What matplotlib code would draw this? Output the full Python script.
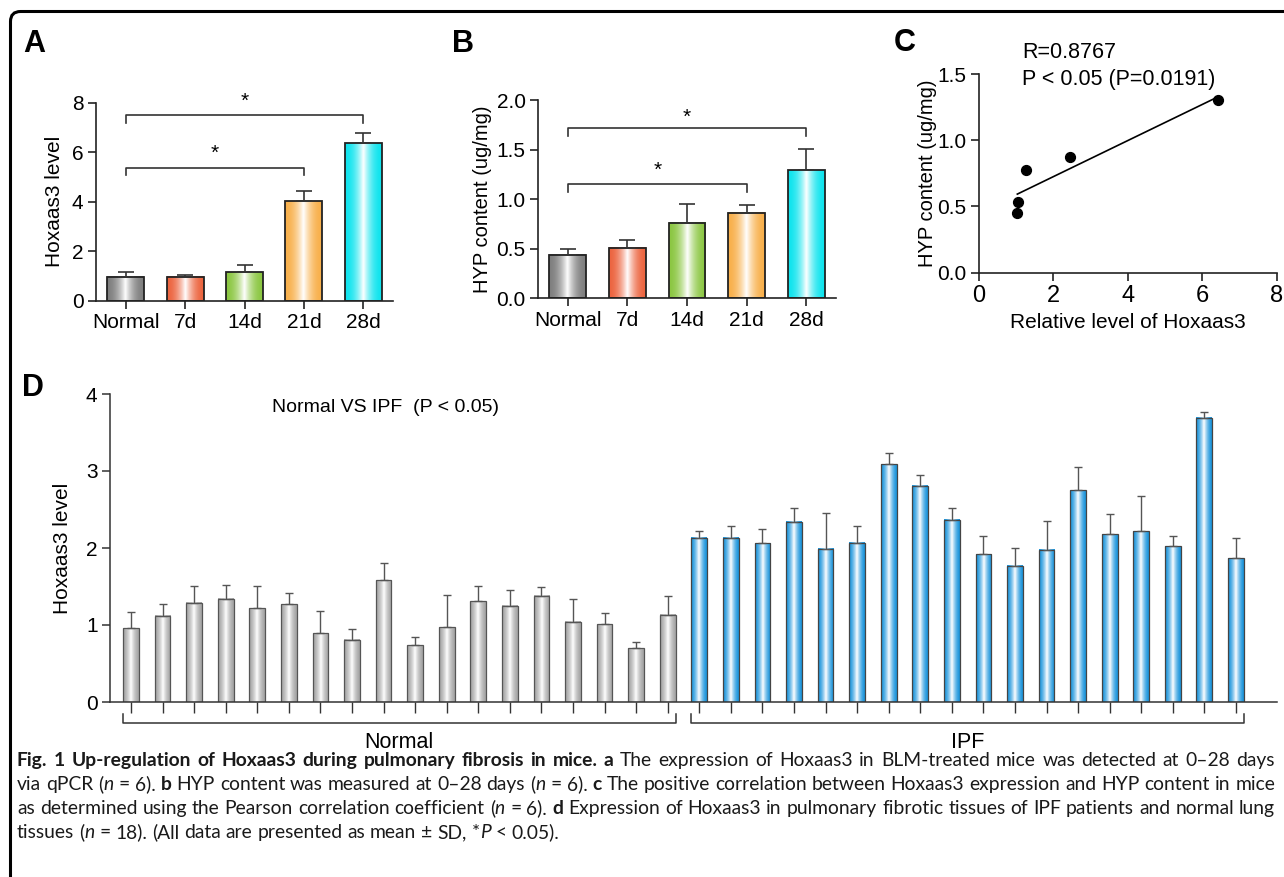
import numpy as np
import matplotlib
matplotlib.use("Agg")
import matplotlib.pyplot as plt
from matplotlib.patches import FancyBboxPatch
from matplotlib.colors import to_rgb
from matplotlib.transforms import IdentityTransform

plt.rcParams['font.family'] = ['Liberation Sans', 'DejaVu Sans']

W, H = 1284, 877

# panel A / B: time course in mice
groups = ["Normal", "7d", "14d", "21d", "28d"]
hox_mean = [0.97, 0.97, 1.17, 4.04, 6.36]
hox_sd = [0.17, 0.07, 0.26, 0.39, 0.41]
hyp_mean = [0.44, 0.51, 0.76, 0.86, 1.29]
hyp_sd = [0.06, 0.08, 0.19, 0.08, 0.22]
group_colors = ["#7f7f7f", "#ec6540", "#8cc743", "#f8b04c", "#10e4ee"]

# panel C: correlation
corr_x = [1.03, 1.05, 1.25, 2.45, 6.43]
corr_y = [0.45, 0.53, 0.775, 0.873, 1.30]

# panel D: patients
normal_mean = [0.96, 1.12, 1.29, 1.34, 1.22, 1.27, 0.89, 0.81, 1.58, 0.74,
               0.97, 1.31, 1.25, 1.38, 1.04, 1.01, 0.70, 1.13]
normal_sd = [0.21, 0.15, 0.22, 0.18, 0.29, 0.15, 0.29, 0.14, 0.22, 0.10,
             0.42, 0.20, 0.21, 0.11, 0.30, 0.14, 0.08, 0.25]
ipf_mean = [2.13, 2.13, 2.06, 2.34, 1.99, 2.07, 3.09, 2.81, 2.37, 1.92,
            1.77, 1.98, 2.75, 2.18, 2.22, 2.02, 3.69, 1.87]
ipf_sd = [0.09, 0.15, 0.19, 0.18, 0.47, 0.21, 0.14, 0.14, 0.15, 0.23,
          0.23, 0.37, 0.30, 0.26, 0.45, 0.14, 0.08, 0.26]

fig = plt.figure(figsize=(W / 100, H / 100), dpi=100)


def add_axes_px(left, top, right, bottom):
    return fig.add_axes([left / W, 1 - bottom / H, (right - left) / W, (bottom - top) / H])


def fig_text_px(x, y, s, **kw):
    return fig.text(x / W, 1 - y / H, s, **kw)


def style_axes(ax, lw=1.2, color="#222222"):
    for s in ["top", "right"]:
        ax.spines[s].set_visible(False)
    for s in ["left", "bottom"]:
        ax.spines[s].set_linewidth(lw)
        ax.spines[s].set_color(color)
    ax.tick_params(direction="out", length=6, width=lw, color=color, labelsize=15, pad=3)


def shade_bars(ax, bars, colors, power=2.0):
    # cylinder-like shading: colour at the edges, white in the middle
    t = np.linspace(0, 1, 80)
    w = (1 - np.abs(2 * t - 1)) ** power
    for bar, c in zip(bars, colors):
        rgb = np.array(to_rgb(c))
        img = rgb[None, :] * (1 - w[:, None]) + w[:, None]
        x0, y0 = bar.get_x(), bar.get_y()
        ax.imshow(img[None, :, :], extent=[x0, x0 + bar.get_width(), y0, y0 + bar.get_height()],
                  aspect="auto", zorder=1, interpolation="bilinear")


def bracket(ax, x0, x1, y, drop, star_y):
    ax.plot([x0, x0, x1, x1], [y - drop, y, y, y - drop], color="#333333", lw=1.2, clip_on=False)
    ax.text((x0 + x1) / 2, star_y, "*", ha="center", va="center", fontsize=15)


x5 = np.arange(len(groups))

# ---- A
axA = add_axes_px(96, 102.7, 393, 300.7)
barsA = axA.bar(x5, hox_mean, width=0.62, facecolor="none", edgecolor="#222222", lw=1.3, zorder=2)
shade_bars(axA, barsA, group_colors)
axA.errorbar(x5, hox_mean, yerr=[np.zeros(5), hox_sd], fmt="none", ecolor="#333333",
             elinewidth=1.2, capsize=5.5, capthick=1.2, zorder=3)
axA.set_xlim(-0.5, 4.5)
axA.set_ylim(0, 8)
axA.set_yticks([0, 2, 4, 6, 8])
axA.set_xticks(x5, groups)
style_axes(axA)
axA.set_ylabel("Hoxaas3 level", fontsize=15, va="center")
axA.yaxis.set_label_coords(-41 / 297, 0.5)
bracket(axA, 0, 3, 5.35, 0.27, 5.95)
bracket(axA, 0, 4, 7.5, 0.3, 8.04)

# ---- B
axB = add_axes_px(538, 100, 836, 298.3)
barsB = axB.bar(x5, hyp_mean, width=0.62, facecolor="none", edgecolor="#222222", lw=1.3, zorder=2)
shade_bars(axB, barsB, group_colors)
axB.errorbar(x5, hyp_mean, yerr=[np.zeros(5), hyp_sd], fmt="none", ecolor="#333333",
             elinewidth=1.2, capsize=5.5, capthick=1.2, zorder=3)
axB.set_xlim(-0.5, 4.5)
axB.set_ylim(0, 2)
axB.set_yticks([0, 0.5, 1.0, 1.5, 2.0], ["0.0", "0.5", "1.0", "1.5", "2.0"])
axB.set_xticks(x5, groups)
style_axes(axB)
axB.set_ylabel("HYP content (ug/mg)", fontsize=14.5, va="center")
axB.yaxis.set_label_coords(-55 / 298, 0.5)
bracket(axB, 0, 3, 1.153, 0.077, 1.29)
bracket(axB, 0, 4, 1.714, 0.077, 1.83)

# ---- C
axC = add_axes_px(979, 74, 1276.7, 272.7)
axC.scatter(corr_x, corr_y, s=50, color="black", zorder=3, clip_on=False)
slope, icpt = np.polyfit(corr_x, corr_y, 1)
xl = np.array([min(corr_x), max(corr_x)])
axC.plot(xl, slope * xl + icpt, color="black", lw=1.2)
axC.set_xlim(0, 8)
axC.set_ylim(0, 1.5)
axC.set_xticks([0, 2, 4, 6, 8])
axC.set_yticks([0, 0.5, 1.0, 1.5], ["0.0", "0.5", "1.0", "1.5"])
style_axes(axC)
axC.tick_params(axis="x", labelsize=17)
axC.set_ylabel("HYP content (ug/mg)", fontsize=14.5, va="center")
axC.yaxis.set_label_coords(-52 / 298, 0.5)
axC.set_xlabel("Relative level of Hoxaas3", fontsize=15)
axC.text(1.16, 1.66, "R=0.8767", fontsize=15.5, va="center", ha="left")
axC.text(1.16, 1.455, "P < 0.05 (P=0.0191)", fontsize=15.5, va="center", ha="left")

# ---- D
axD = add_axes_px(110, 394, 1277, 702)
n = len(normal_mean)
xn = np.arange(n)
xi = np.arange(n, 2 * n)
barsN = axD.bar(xn, normal_mean, width=0.5, facecolor="none", edgecolor="#555555", lw=0.9, zorder=2)
barsI = axD.bar(xi, ipf_mean, width=0.5, facecolor="none", edgecolor="#444444", lw=0.9, zorder=2)
shade_bars(axD, barsN, ["#a6a6a6"] * n, power=1.6)
shade_bars(axD, barsI, ["#1b95dc"] * n, power=1.6)
axD.errorbar(xn, normal_mean, yerr=[np.zeros(n), normal_sd], fmt="none", ecolor="#555555",
             elinewidth=1, capsize=3, capthick=1, zorder=3)
axD.errorbar(xi, ipf_mean, yerr=[np.zeros(n), ipf_sd], fmt="none", ecolor="#555555",
             elinewidth=1, capsize=3, capthick=1, zorder=3)
axD.set_xlim(-0.665, 2 * n + 0.3)
axD.set_ylim(0, 4)
axD.set_yticks([0, 1, 2, 3, 4])
axD.set_xticks(np.arange(2 * n), [""] * (2 * n))
style_axes(axD, lw=1.1, color="#333333")
axD.tick_params(axis="x", length=8, width=1)
axD.set_ylabel("Hoxaas3 level", fontsize=15, va="center")
axD.yaxis.set_label_coords(-47 / 1167, 0.5)
for lo, hi, lab in [(xn[0], xn[-1], "Normal"), (xi[0], xi[-1], "IPF")]:
    axD.plot([lo - 0.25, lo - 0.25, hi + 0.25, hi + 0.25], [-0.156, -0.273, -0.273, -0.156],
             color="#333333", lw=1.1, clip_on=False)
    axD.text((lo + hi) / 2, -0.52, lab, ha="center", va="center", fontsize=15.5)
fig_text_px(272, 407, "Normal VS IPF  (P < 0.05)", fontsize=14, va="center", ha="left")

# panel letters
for x, y, s in [(34, 44, "A"), (463, 44, "B"), (905, 43, "C"), (33, 388, "D")]:
    fig_text_px(x, y, s, fontsize=22, fontweight="bold", ha="center", va="center")

# outer rounded frame (open to the right and bottom)
frame = FancyBboxPatch((10.5, -40), 1400, H - 11.5 + 40, boxstyle="round,pad=0,rounding_size=10",
                       transform=IdentityTransform(), fill=False, lw=2.2, ec="black")
fig.add_artist(frame)

# ---- caption, justified
cap_font = ["Lato", "DejaVu Sans"]
caption = [
    [("Fig. 1 Up-regulation of Hoxaas3 during pulmonary fibrosis in mice. a", "bold", "normal"),
     (" The expression of Hoxaas3 in BLM-treated mice was detected at 0–28 days", "normal", "normal")],
    [("via qPCR (", "normal", "normal"), ("n", "normal", "italic"), (" = 6). ", "normal", "normal"),
     ("b", "bold", "normal"), (" HYP content was measured at 0–28 days (", "normal", "normal"),
     ("n", "normal", "italic"), (" = 6). ", "normal", "normal"), ("c", "bold", "normal"),
     (" The positive correlation between Hoxaas3 expression and HYP content in mice", "normal", "normal")],
    [("as determined using the Pearson correlation coefficient (", "normal", "normal"),
     ("n", "normal", "italic"), (" = 6). ", "normal", "normal"), ("d", "bold", "normal"),
     (" Expression of Hoxaas3 in pulmonary fibrotic tissues of IPF patients and normal lung", "normal", "normal")],
    [("tissues (", "normal", "normal"), ("n", "normal", "italic"),
     (" = 18). (All data are presented as mean ± SD, *", "normal", "normal"),
     ("P", "normal", "italic"), (" < 0.05).", "normal", "normal")],
]
cap_left, cap_right = 17, 1275
baselines = [766, 790, 814, 838]
target = cap_right - cap_left

renderer = fig.canvas.get_renderer()


def text_width(s, fs, weight="normal", style="normal"):
    t = fig.text(0, 0, s, fontsize=fs, fontweight=weight, fontstyle=style, family=cap_font)
    w = t.get_window_extent(renderer).width
    t.remove()
    return w


def to_words(runs):
    words = [[]]
    for text, weight, style in runs:
        parts = text.split(" ")
        for k, p in enumerate(parts):
            if k > 0:
                words.append([])
            if p:
                words[-1].append((p, weight, style))
    return [w for w in words if w]


line_words = [to_words(r) for r in caption]


def natural_width(words, fs, bold_scale=1.0):
    sp = text_width("a a", fs) - text_width("aa", fs)
    tot = 0
    for w in words:
        for p, wt, st in w:
            tot += text_width(p, fs * (bold_scale if wt == "bold" else 1), wt, st)
    return tot, sp


# size the font so the plain lines fill the width with ordinary spacing
base_fs = 12
nat = [sum(natural_width(line_words[i], base_fs)) + 0 for i in (1, 2)]
nat = []
for i in (1, 2):
    tot, sp = natural_width(line_words[i], base_fs)
    nat.append(tot + sp * (len(line_words[i]) - 1))
cap_fs = base_fs * target / max(nat) * 0.995

# first line: shrink the bold lead-in a little if it would overflow
tot_b, sp = natural_width(line_words[0], cap_fs)
bold_w = sum(text_width(p, cap_fs, wt, st) for w in line_words[0] for p, wt, st in w if wt == "bold")
over = tot_b + 0.85 * sp * (len(line_words[0]) - 1) - target
bold_scale = 1.0 if over <= 0 else max(0.85, 1 - over / bold_w)

for li, (words, yb) in enumerate(zip(line_words, baselines)):
    sizes = [[cap_fs * (bold_scale if (li == 0 and wt == "bold") else 1) for p, wt, st in w] for w in words]
    widths = [[text_width(p, fs, wt, st) for (p, wt, st), fs in zip(w, sz)] for w, sz in zip(words, sizes)]
    total = sum(sum(w) for w in widths)
    if li < len(line_words) - 1:
        gap = (target - total) / (len(words) - 1)
    else:
        gap = sp
    x = cap_left
    for w, ws, sz in zip(words, widths, sizes):
        for (p, wt, st), pw, fs in zip(w, ws, sz):
            fig_text_px(x, yb, p, fontsize=fs, fontweight=wt, fontstyle=st,
                        family=cap_font, va="baseline", ha="left", color="#1a1a1a")
            x += pw
        x += gap

fig.savefig("out.png", dpi=100)
